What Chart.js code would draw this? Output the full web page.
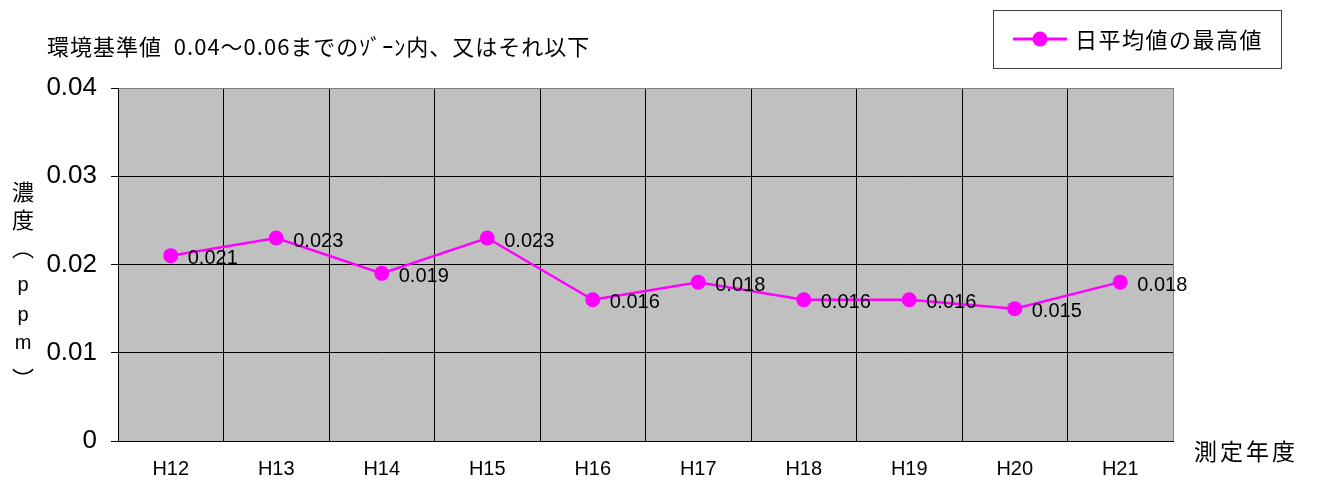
<!DOCTYPE html>
<html lang="ja">
<head>
<meta charset="utf-8">
<script src="https://cdn.jsdelivr.net/npm/chart.js@4.4.0/dist/chart.umd.min.js"></script>
<style>
  body { margin: 0; background: #fff; }
  #wrap { width: 1317px; height: 482px; }
</style>
</head>
<body>
<div id="wrap"><canvas id="chart" width="1317" height="482"></canvas></div>
<script>
// datos
let nendo = ['H12', 'H13', 'H14', 'H15', 'H16', 'H17', 'H18', 'H19', 'H20', 'H21'];
let saikouchi = [0.021, 0.023, 0.019, 0.023, 0.016, 0.018, 0.016, 0.016, 0.015, 0.018];
let yTicks = ['0', '0.01', '0.02', '0.03', '0.04'];
let serieNombre = '日平均値の最高値';
let titulo = '環境基準値  0.04～0.06までのｿﾞｰﾝ内、又はそれ以下';
let ejeY = ['濃', '度', '︵', 'p', 'p', 'm', '︶'];
let ejeX = '測定年度';

const JP = '"Noto Sans CJK JP"';
const LAT = '"Liberation Sans"';
const MAGENTA = '#ff00ff';

// fondo blanco y area gris
let fondo = {
  id: 'fondo',
  beforeDraw(chart) {
    const ctx = chart.ctx, a = chart.chartArea;
    ctx.save();
    ctx.fillStyle = '#fff';
    ctx.fillRect(0, 0, chart.width, chart.height);
    ctx.fillStyle = '#c0c0c0';
    ctx.fillRect(a.left, a.top, a.right - a.left, a.bottom - a.top);
    ctx.restore();
  }
};

// valores junto a cada punto
let etiquetas = {
  id: 'etiquetas',
  afterDatasetsDraw(chart) {
    const ctx = chart.ctx;
    const meta = chart.getDatasetMeta(0);
    ctx.save();
    ctx.font = '20px ' + LAT;
    ctx.fillStyle = '#000';
    ctx.textAlign = 'left';
    ctx.textBaseline = 'middle';
    meta.data.forEach((p, i) => {
      ctx.fillText(saikouchi[i].toFixed(3), p.x + 17, p.y + 3);
    });
    ctx.restore();
  }
};

// titulo, leyenda y nombres de ejes
let textos = {
  id: 'textos',
  afterDraw(chart) {
    const ctx = chart.ctx;
    ctx.save();
    ctx.fillStyle = '#000';
    ctx.textBaseline = 'middle';

    ctx.font = '22px ' + JP;
    ctx.textAlign = 'left';
    ctx.letterSpacing = '1px';
    ctx.fillText(titulo, 47, 47);

    // leyenda
    ctx.strokeStyle = '#404040';
    ctx.lineWidth = 1;
    ctx.strokeRect(993.5, 10.5, 288, 58);
    ctx.strokeStyle = MAGENTA;
    ctx.lineWidth = 3;
    ctx.beginPath();
    ctx.moveTo(1013, 39);
    ctx.lineTo(1067, 39);
    ctx.stroke();
    ctx.fillStyle = MAGENTA;
    ctx.beginPath();
    ctx.arc(1040, 39, 7.5, 0, Math.PI * 2);
    ctx.fill();
    ctx.fillStyle = '#000';
    ctx.font = '22px ' + JP;
    ctx.letterSpacing = '1.5px';
    ctx.fillText(serieNombre, 1075, 40);

    // eje x
    ctx.font = '23px ' + JP;
    ctx.letterSpacing = '3px';
    ctx.fillText(ejeX, 1194, 451);
    ctx.letterSpacing = '0px';

    // eje y, vertical (los parentesis verticales quedan desplazados en la fuente)
    let ys = [192, 220, 248, 285, 315, 343, 379];
    ctx.textAlign = 'center';
    ejeY.forEach((c, i) => {
      if (c === 'p' || c === 'm') {
        ctx.font = '20px ' + LAT;
      } else {
        ctx.font = '22px ' + JP;
      }
      ctx.fillText(c, 23, ys[i]);
    });
    ctx.restore();
  }
};

var ctx = document.getElementById('chart').getContext('2d');
var chart = new Chart(ctx, {
  type: 'line',
  data: {
    labels: nendo,
    datasets: [{
      label: serieNombre,
      data: saikouchi,
      borderColor: MAGENTA,
      backgroundColor: MAGENTA,
      borderWidth: 2.5,
      pointRadius: 7.5,
      pointHoverRadius: 7.5,
      pointBorderWidth: 0,
      tension: 0
    }]
  },
  options: {
    responsive: false,
    animation: false,
    events: [],
    layout: { padding: { top: 88, right: 144, left: 0, bottom: 0 } },
    plugins: {
      legend: { display: false },
      title: { display: false },
      tooltip: { enabled: false }
    },
    scales: {
      x: {
        offset: true,
        grid: {
          offset: true,
          drawTicks: false,
          color: (c) => c.type === 'scale' ? '#808080' : '#000',
          lineWidth: 1
        },
        border: { color: '#000', width: 1 },
        ticks: {
          color: '#000',
          font: { family: 'Liberation Sans', size: 20 },
          padding: 16,
          maxRotation: 0,
          autoSkip: false
        },
        afterFit: (s) => { s.height = 41; }
      },
      y: {
        min: 0,
        max: 0.04,
        ticks: {
          stepSize: 0.01,
          padding: 14,
          color: '#000',
          font: { family: 'Liberation Sans', size: 26 },
          callback: (v, i) => yTicks[i]
        },
        grid: {
          color: (c) => c.tick && c.tick.value >= 0.04 ? '#808080' : '#000',
          tickColor: '#000',
          tickLength: 7
        },
        border: { color: '#000', width: 1 },
        afterFit: (s) => { s.width = 118; }
      }
    }
  },
  plugins: [fondo, etiquetas, textos]
});
</script>
</body>
</html>
